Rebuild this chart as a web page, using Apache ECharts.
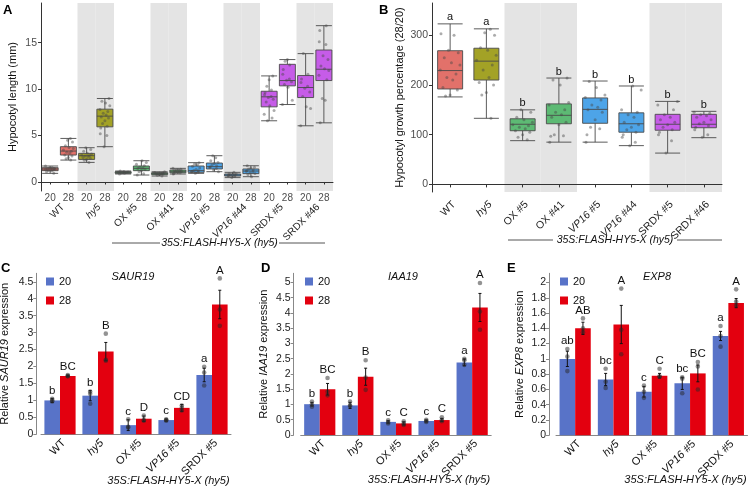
<!DOCTYPE html>
<html><head><meta charset="utf-8">
<script src="https://cdn.jsdelivr.net/npm/echarts@6/dist/echarts.min.js"></script>
<style>html,body{margin:0;padding:0;background:#fff}#c{width:750px;height:488px}</style>
</head><body><div id="c"></div>
<script>
const FONT = '"Liberation Sans", Arial, sans-serif';

// ---------- Panel A: hypocotyl length ----------
const genotypes = ['WT', 'hy5', 'OX #5', 'OX #41', 'VP16 #5', 'VP16 #44', 'SRDX #5', 'SRDX #46'];
const temps = ['20', '28'];
const shadedA = ['hy5', 'OX #41', 'VP16 #44', 'SRDX #46'];
const yTicksA = [0, 5, 10, 15];
// [min, Q1, median, Q3, max] per genotype x temperature
const boxA = [
  [0.93, 1.22, 1.40, 1.54, 1.72], [2.36, 2.90, 3.33, 3.80, 4.69],
  [2.11, 2.43, 2.83, 3.08, 3.69], [3.80, 5.94, 7.09, 7.84, 8.99],
  [0.86, 0.93, 1.04, 1.11, 1.18], [0.75, 1.22, 1.47, 1.72, 2.29],
  [0.64, 0.79, 0.90, 1.00, 1.10], [0.86, 1.00, 1.15, 1.29, 1.47],
  [0.93, 1.04, 1.22, 1.72, 2.08], [1.11, 1.40, 1.65, 2.04, 2.83],
  [0.47, 0.64, 0.75, 0.86, 1.04], [0.57, 0.90, 1.18, 1.40, 1.75],
  [6.59, 8.09, 9.17, 9.77, 11.42], [8.34, 10.35, 10.92, 12.67, 13.18],
  [6.05, 9.09, 10.17, 11.46, 13.82], [6.37, 10.92, 12.14, 14.21, 16.83]
];
const ptsA = [
  [1.72, 1.55, 1.5, 1.45, 1.42, 1.4, 1.38, 1.35, 1.3, 1.25, 1.2, 1.1, 0.93],
  [4.69, 4.5, 4.3, 3.9, 3.7, 3.6, 3.45, 3.3, 3.2, 3.1, 2.9, 2.8, 2.65, 2.5, 2.36],
  [3.69, 3.5, 3.3, 3.1, 3.0, 2.9, 2.85, 2.8, 2.75, 2.65, 2.55, 2.45, 2.35, 2.11],
  [8.99, 8.7, 8.5, 8.2, 7.8, 7.6, 7.4, 7.2, 7.0, 6.9, 6.6, 6.3, 6.0, 5.8, 5.2, 5.0, 3.8],
  [1.18, 1.12, 1.08, 1.05, 1.02, 0.98, 0.95, 0.86],
  [2.29, 2.1, 1.9, 1.75, 1.6, 1.5, 1.45, 1.35, 1.25, 1.1, 0.9, 0.75],
  [1.1, 1.02, 0.98, 0.95, 0.92, 0.9, 0.85, 0.8, 0.72, 0.64],
  [1.47, 1.38, 1.3, 1.25, 1.2, 1.15, 1.1, 1.05, 1.0, 0.92, 0.86],
  [2.08, 1.95, 1.85, 1.7, 1.5, 1.35, 1.25, 1.2, 1.15, 1.1, 1.05, 0.93],
  [2.83, 2.6, 2.3, 2.1, 2.0, 1.85, 1.75, 1.65, 1.55, 1.45, 1.3, 1.11],
  [1.04, 0.9, 0.85, 0.8, 0.76, 0.74, 0.7, 0.66, 0.6, 0.47],
  [1.75, 1.6, 1.5, 1.4, 1.3, 1.22, 1.15, 1.1, 1.0, 0.92, 0.8, 0.57],
  [11.42, 11.0, 10.3, 9.9, 9.6, 9.4, 9.2, 9.1, 8.9, 8.6, 8.2, 7.7, 7.3, 6.9, 6.59],
  [13.18, 13.0, 12.6, 12.1, 11.6, 11.1, 10.95, 10.8, 10.5, 10.2, 8.8, 8.34],
  [13.82, 11.6, 11.1, 10.7, 10.3, 10.1, 9.7, 9.2, 8.1, 7.9, 6.05],
  [16.83, 16.3, 15.1, 14.8, 13.6, 13.2, 12.5, 12.2, 12.0, 11.5, 11.0, 9.0, 8.8, 6.37]
];

// ---------- Panel B: growth percentage ----------
const shadedB = ['OX #5', 'OX #41', 'SRDX #5', 'SRDX #46'];
const yTicksB = [0, 100, 200, 300];
const boxB = [
  [176, 192, 229, 269, 323], [133, 210, 248, 274, 313],
  [88, 108, 121, 132, 150], [85, 122, 139, 162, 214],
  [85, 123, 151, 174, 208], [78, 105, 122, 144, 198],
  [63, 109, 121, 141, 167], [94, 114, 121, 141, 147]
];
const ptsB = [
  [303, 300, 270, 265, 255, 245, 240, 230, 222, 215, 210, 195, 190, 180, 178],
  [312, 305, 300, 275, 270, 260, 250, 240, 230, 215, 205, 200, 185, 180, 133],
  [150, 145, 135, 130, 125, 120, 118, 115, 112, 108, 105, 100, 95, 90],
  [214, 210, 200, 165, 160, 150, 145, 140, 135, 125, 120, 100, 98, 97, 85],
  [207, 195, 180, 175, 170, 160, 155, 150, 145, 130, 115, 112, 100, 85],
  [198, 190, 150, 145, 140, 135, 125, 120, 115, 110, 105, 100, 95, 85, 78],
  [167, 160, 150, 140, 135, 130, 125, 120, 115, 110, 105, 100, 88, 63],
  [145, 143, 140, 138, 135, 130, 125, 122, 118, 115, 110, 100, 95]
];
const lettersB = ['a', 'a', 'b', 'b', 'b', 'b', 'b', 'b'];

// ---------- Panels C-E: qPCR ----------
const qGenotypes = ['WT', 'hy5', 'OX #5', 'VP16 #5', 'SRDX #5'];

const yTicksC = [0, 0.5, 1, 1.5, 2, 2.5, 3, 3.5, 4, 4.5];
const saur_20 = [1.00, 1.14, 0.27, 0.42, 1.75];
const saur_20_se = [0.06, 0.15, 0.16, 0.03, 0.20];
const saur_20_reps = [[1.05, 1.0, 0.97], [1.26, 1.2, 0.9], [0.44, 0.2, 0.22], [0.44, 0.42, 0.4], [1.99, 1.82, 1.44]];
const saur_28 = [1.72, 2.44, 0.46, 0.78, 3.83];
const saur_28_se = [0.02, 0.27, 0.08, 0.10, 0.42];
const saur_28_reps = [[1.75, 1.72, 1.71], [2.97, 2.2, 2.17], [0.55, 0.42, 0.4], [0.85, 0.78, 0.7], [4.6, 3.68, 3.2]];
const saur_20_letters = ['b', 'b', 'c', 'c', 'a'];
const saur_28_letters = ['BC', 'B', 'D', 'CD', 'A'];

const yTicksD = [0, 0.5, 1, 1.5, 2, 2.5, 3, 3.5, 4, 4.5, 5];
const iaa_20 = [1.01, 0.97, 0.43, 0.46, 2.38];
const iaa_20_se = [0.06, 0.10, 0.04, 0.03, 0.11];
const iaa_20_reps = [[1.1, 1.0, 0.93], [1.1, 0.97, 0.95], [0.48, 0.42, 0.38], [0.5, 0.46, 0.43], [2.5, 2.45, 2.3]];
const iaa_28 = [1.50, 1.91, 0.38, 0.49, 4.18];
const iaa_28_se = [0.19, 0.28, 0.05, 0.05, 0.46];
const iaa_28_reps = [[1.87, 1.42, 1.3], [2.45, 1.88, 1.48], [0.45, 0.38, 0.33], [0.58, 0.5, 0.45], [4.98, 4.05, 3.45]];
const iaa_20_letters = ['b', 'b', 'c', 'c', 'a'];
const iaa_28_letters = ['BC', 'B', 'C', 'C', 'A'];

const yTicksE = [0, 0.2, 0.4, 0.6, 0.8, 1, 1.2, 1.4, 1.6, 1.8, 2];
const exp_20 = [1.00, 0.73, 0.57, 0.68, 1.30];
const exp_20_se = [0.10, 0.08, 0.07, 0.08, 0.06];
const exp_20_reps = [[1.13, 1.03, 0.84], [0.87, 0.7, 0.62], [0.65, 0.57, 0.49], [0.76, 0.74, 0.55], [1.43, 1.3, 1.16]];
const exp_28 = [1.40, 1.45, 0.78, 0.81, 1.73];
const exp_28_se = [0.08, 0.25, 0.03, 0.11, 0.06];
const exp_28_reps = [[1.53, 1.4, 1.35], [1.92, 1.38, 1.06], [0.87, 0.77, 0.77], [0.96, 0.9, 0.6], [1.91, 1.75, 1.70]];
const exp_20_letters = ['ab', 'bc', 'c', 'bc', 'a'];
const exp_28_letters = ['AB', 'A', 'C', 'BC', 'A'];

// ---------- styles ----------
const genoColor = {WT: '#E2716A', hy5: '#A3A226', OX: '#5DBA74', VP16: '#4DA4E8', SRDX: '#C65CE8'};
const colorOf = g => genoColor[g.split(' ')[0]];
const BLUE = '#5873C8', RED = '#E3000F';
const JIT = [-0.28, 0.12, -0.05, 0.25, -0.18, 0.04, 0.3, -0.3, 0.18, -0.1, 0.08, -0.22, 0.22, 0.0, -0.14, 0.14, -0.25];

function labelFmt(v) {
  if (v === 'hy5') return '{i|hy5}';
  if (v.indexOf('VP16') === 0) return '{i|VP16}' + v.slice(4);
  return v;
}

const catA = [];
genotypes.forEach(g => temps.forEach(t => catA.push(g + ' ' + t)));

function bandSeries(xi, yi, idxs) {
  return {
    type: 'custom', xAxisIndex: xi, yAxisIndex: yi, z: 0, silent: true,
    data: idxs.map(i => [i, 0]),
    renderItem(params, api) {
      const cs = params.coordSys;
      const p = api.coord([api.value(0), 0]);
      const w = api.size([1, 0])[0];
      return {type: 'rect', shape: {x: p[0] - w / 2, y: cs.y, width: w, height: cs.height}, style: {fill: '#E4E4E4'}};
    }
  };
}
function jitterSeries(xi, yi, groups, spread) {
  const data = [];
  groups.forEach((vals, g) => vals.forEach((v, k) => data.push([g, v, k + g])));
  return {
    type: 'custom', xAxisIndex: xi, yAxisIndex: yi, z: 5, silent: true, data,
    renderItem(params, api) {
      const p = api.coord([api.value(0), api.value(1)]);
      const w = api.size([1, 0])[0];
      const dx = JIT[api.value(2) % JIT.length] * w * spread;
      return {type: 'circle', shape: {cx: p[0] + dx, cy: p[1], r: 1.5}, style: {fill: 'rgba(70,70,70,0.45)'}};
    }
  };
}
function boxSeries(xi, yi, boxes, colorFn, width) {
  return {
    type: 'boxplot', xAxisIndex: xi, yAxisIndex: yi, z: 3, silent: true,
    boxWidth: [width, width],
    data: boxes.map((b, i) => ({value: b, itemStyle: {color: colorFn(i), borderColor: '#4a4a4a', borderWidth: 0.9}}))
  };
}
function lettersTopSeries(xi, yi, boxes, letters) {
  return {
    type: 'custom', xAxisIndex: xi, yAxisIndex: yi, z: 6, silent: true,
    data: boxes.map((b, i) => [i, b[4]]),
    renderItem(params, api) {
      const p = api.coord([api.value(0), api.value(1)]);
      return {type: 'text', style: {text: letters[params.dataIndex], x: p[0], y: p[1] - 1, align: 'center', verticalAlign: 'bottom', font: '11px ' + FONT, fill: '#111'}};
    }
  };
}
const HALF = 7.8;
function barSet(xi, yi, means, ses, reps, letters, name, color, dx) {
  const bar = {
    type: 'bar', name, xAxisIndex: xi, yAxisIndex: yi, data: means, barWidth: 15.6, barGap: '0%',
    itemStyle: {color}, z: 2, silent: true
  };
  const err = {
    type: 'custom', xAxisIndex: xi, yAxisIndex: yi, z: 4, silent: true,
    data: means.map((m, i) => [i, m, ses[i], Math.max(m + ses[i], ...reps[i])]),
    renderItem(params, api) {
      const i = api.value(0), m = api.value(1), s = api.value(2), top = api.value(3);
      const a = api.coord([i, m - s]), b = api.coord([i, m + s]), t = api.coord([i, top]);
      const x = a[0] + dx;
      const kids = [
        {type: 'line', shape: {x1: x, y1: a[1], x2: x, y2: b[1]}, style: {stroke: '#111', lineWidth: 1}},
        {type: 'line', shape: {x1: x - 1.5, y1: a[1], x2: x + 1.5, y2: a[1]}, style: {stroke: '#111', lineWidth: 1}},
        {type: 'line', shape: {x1: x - 1.5, y1: b[1], x2: x + 1.5, y2: b[1]}, style: {stroke: '#111', lineWidth: 1}}
      ];
      reps[params.dataIndex].forEach(v => {
        const p = api.coord([i, v]);
        kids.push({type: 'circle', shape: {cx: x, cy: p[1], r: 2.3}, style: {fill: 'rgba(40,40,40,0.5)'}});
      });
      kids.push({type: 'text', style: {text: letters[params.dataIndex], x: x, y: t[1] - 2, align: 'center', verticalAlign: 'bottom', font: '11.5px ' + FONT, fill: '#111'}});
      return {type: 'group', children: kids};
    }
  };
  return [bar, err];
}

const tickLbl = (ticks, size, color, margin) => ({customValues: ticks, fontSize: size, color, margin, fontFamily: FONT});

function qYAxis(gi, max, ticks, geneName, offset, gap) {
  return {
    type: 'value', gridIndex: gi, min: 0, max, offset,
    axisLine: {show: true, lineStyle: {color: '#888'}},
    axisTick: {show: true, length: 3, customValues: ticks, lineStyle: {color: '#888'}},
    axisLabel: tickLbl(ticks, 10.5, '#222', 3),
    splitLine: {show: false},
    name: '{n|Relative }{i|' + geneName + '}{n| expression}', nameLocation: 'middle', nameGap: gap,
    nameTextStyle: {fontFamily: FONT, rich: {n: {fontSize: 11, color: '#111', fontFamily: FONT}, i: {fontSize: 11, color: '#111', fontStyle: 'italic', fontFamily: FONT}}}
  };
}
function rotLabel(margin, color, size) {
  return {rotate: 45, align: 'right', verticalAlign: 'top', fontSize: size, color, margin, fontFamily: FONT, formatter: labelFmt,
    rich: {i: {fontStyle: 'italic', fontSize: size, color, fontFamily: FONT}}};
}
function qXAxis(gi) {
  return {
    type: 'category', gridIndex: gi, data: qGenotypes, position: 'bottom',
    axisLine: {lineStyle: {color: '#888'}}, axisTick: {show: false},
    axisLabel: rotLabel(3, '#111', 11)
  };
}

const shadedIdxA = [];
catA.forEach((c, i) => { if (shadedA.some(s => c === s + ' 20' || c === s + ' 28')) shadedIdxA.push(i); });
const shadedIdxB = genotypes.map((g, i) => shadedB.includes(g) ? i : -1).filter(i => i >= 0);

const option = {
  animation: false,
  backgroundColor: '#fff',
  textStyle: {fontFamily: FONT},
  grid: [
    {left: 41, top: 3, width: 292, height: 188, outerBoundsMode: 'none'},
    {left: 432, top: 3, width: 290, height: 189, outerBoundsMode: 'none'},
    {left: 41, top: 273.3, width: 190, height: 161, outerBoundsMode: 'none'},
    {left: 300.7, top: 273.3, width: 190.5, height: 161.7, outerBoundsMode: 'none'},
    {left: 556, top: 273.3, width: 191.5, height: 162, outerBoundsMode: 'none'}
  ],
  xAxis: [
    {type: 'category', gridIndex: 0, data: catA, position: 'bottom',
      axisLine: {lineStyle: {color: '#333'}}, axisTick: {show: true, length: 2.5, alignWithLabel: true, lineStyle: {color: '#333'}},
      axisLabel: {fontSize: 10, color: '#4D4D4D', margin: 2, fontFamily: FONT, formatter: v => v.split(' ').pop()}},
    {type: 'category', gridIndex: 0, data: genotypes, position: 'bottom',
      axisLine: {show: false}, axisTick: {show: false},
      axisLabel: rotLabel(11, '#222', 10)},
    {type: 'category', gridIndex: 1, data: genotypes, position: 'bottom',
      axisLine: {lineStyle: {color: '#333'}}, axisTick: {show: true, length: 3, alignWithLabel: true, lineStyle: {color: '#333'}},
      axisLabel: rotLabel(7, '#222', 10.5)},
    qXAxis(2), qXAxis(3), qXAxis(4)
  ],
  yAxis: [
    {type: 'value', gridIndex: 0, min: -0.97, max: 19.27,
      axisLine: {show: true, lineStyle: {color: '#333'}}, axisTick: {show: true, length: 3, customValues: yTicksA, lineStyle: {color: '#333'}},
      axisLabel: tickLbl(yTicksA, 10.5, '#4D4D4D', 4), splitLine: {show: false},
      name: 'Hypocotyl length (mm)', nameLocation: 'middle', nameGap: 23, nameTextStyle: {fontSize: 11, color: '#111', fontFamily: FONT}},
    {type: 'value', gridIndex: 1, min: -15.3, max: 365,
      axisLine: {show: true, lineStyle: {color: '#333'}}, axisTick: {show: true, length: 3, customValues: yTicksB, lineStyle: {color: '#333'}},
      axisLabel: tickLbl(yTicksB, 10.5, '#4D4D4D', 4), splitLine: {show: false},
      name: 'Hypocotyl growth percentage (28/20)', nameLocation: 'middle', nameGap: 27, nameTextStyle: {fontSize: 11, color: '#111', fontFamily: FONT}},
    qYAxis(2, 4.75, yTicksC, 'SAUR19', 4.7, 26),
    qYAxis(3, 5.3, yTicksD, 'IAA19', 7, 24.5),
    qYAxis(4, 2.12, yTicksE, 'EXP8', 7, 23.5)
  ],
  legend: [
    {data: temps, left: 41, top: 271, orient: 'vertical', icon: 'rect', itemWidth: 8, itemHeight: 8, itemGap: 8, textStyle: {fontSize: 11, color: '#111', fontFamily: FONT}},
    {data: temps, left: 300, top: 271, orient: 'vertical', icon: 'rect', itemWidth: 8, itemHeight: 8, itemGap: 8, textStyle: {fontSize: 11, color: '#111', fontFamily: FONT}},
    {data: temps, left: 555, top: 271, orient: 'vertical', icon: 'rect', itemWidth: 8, itemHeight: 8, itemGap: 8, textStyle: {fontSize: 11, color: '#111', fontFamily: FONT}}
  ],
  series: [
    bandSeries(0, 0, shadedIdxA),
    boxSeries(0, 0, boxA, i => colorOf(genotypes[Math.floor(i / 2)]), 16),
    jitterSeries(0, 0, ptsA, 0.9),
    bandSeries(2, 1, shadedIdxB),
    boxSeries(2, 1, boxB, i => colorOf(genotypes[i]), 25),
    jitterSeries(2, 1, ptsB, 0.9),
    lettersTopSeries(2, 1, boxB, lettersB),
    ...barSet(3, 2, saur_20, saur_20_se, saur_20_reps, saur_20_letters, '20', BLUE, -HALF),
    ...barSet(3, 2, saur_28, saur_28_se, saur_28_reps, saur_28_letters, '28', RED, HALF),
    ...barSet(4, 3, iaa_20, iaa_20_se, iaa_20_reps, iaa_20_letters, '20', BLUE, -HALF),
    ...barSet(4, 3, iaa_28, iaa_28_se, iaa_28_reps, iaa_28_letters, '28', RED, HALF),
    ...barSet(5, 4, exp_20, exp_20_se, exp_20_reps, exp_20_letters, '20', BLUE, -HALF),
    ...barSet(5, 4, exp_28, exp_28_se, exp_28_reps, exp_28_letters, '28', RED, HALF)
  ],
  graphic: [
    {type: 'text', x: 3, y: 4, style: {text: 'A', font: 'bold 13px ' + FONT, fill: '#000'}},
    {type: 'text', x: 379, y: 4, style: {text: 'B', font: 'bold 13px ' + FONT, fill: '#000'}},
    {type: 'text', x: 1, y: 262, style: {text: 'C', font: 'bold 13px ' + FONT, fill: '#000'}},
    {type: 'text', x: 261, y: 262, style: {text: 'D', font: 'bold 13px ' + FONT, fill: '#000'}},
    {type: 'text', x: 507, y: 262, style: {text: 'E', font: 'bold 13px ' + FONT, fill: '#000'}},
    {type: 'line', shape: {x1: 112, y1: 243, x2: 160, y2: 243}, style: {stroke: '#555', lineWidth: 1}},
    {type: 'line', shape: {x1: 279, y1: 243, x2: 325, y2: 243}, style: {stroke: '#555', lineWidth: 1}},
    {type: 'text', x: 219.5, y: 243, style: {text: '35S:FLASH-HY5-X (hy5)', font: 'italic 10.5px ' + FONT, fill: '#111', align: 'center', verticalAlign: 'middle'}},
    {type: 'line', shape: {x1: 508, y1: 240, x2: 553, y2: 240}, style: {stroke: '#555', lineWidth: 1}},
    {type: 'line', shape: {x1: 677, y1: 240, x2: 722, y2: 240}, style: {stroke: '#555', lineWidth: 1}},
    {type: 'text', x: 615, y: 240, style: {text: '35S:FLASH-HY5-X (hy5)', font: 'italic 10.5px ' + FONT, fill: '#111', align: 'center', verticalAlign: 'middle'}},
    {type: 'text', x: 168.5, y: 481, style: {text: '35S:FLASH-HY5-X (hy5)', font: 'italic 11px ' + FONT, fill: '#111', align: 'center', verticalAlign: 'middle'}},
    {type: 'text', x: 429, y: 480, style: {text: '35S:FLASH-HY5-X (hy5)', font: 'italic 11px ' + FONT, fill: '#111', align: 'center', verticalAlign: 'middle'}},
    {type: 'text', x: 685.5, y: 480, style: {text: '35S:FLASH-HY5-X (hy5)', font: 'italic 11px ' + FONT, fill: '#111', align: 'center', verticalAlign: 'middle'}},
    {type: 'text', x: 133, y: 277, style: {text: 'SAUR19', font: 'italic 11px ' + FONT, fill: '#111', align: 'center', verticalAlign: 'middle'}},
    {type: 'text', x: 403, y: 277, style: {text: 'IAA19', font: 'italic 11px ' + FONT, fill: '#111', align: 'center', verticalAlign: 'middle'}},
    {type: 'text', x: 657, y: 277, style: {text: 'EXP8', font: 'italic 11px ' + FONT, fill: '#111', align: 'center', verticalAlign: 'middle'}}
  ]
};

const chart = echarts.init(document.getElementById('c'), null, {renderer: 'canvas'});
chart.setOption(option);
</script>
</body></html>
